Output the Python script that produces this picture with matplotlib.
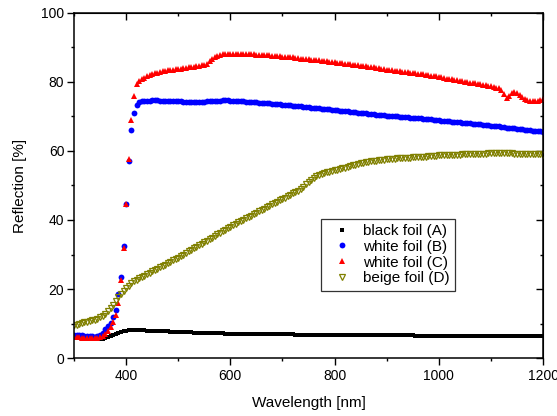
import numpy as np
import matplotlib
matplotlib.use('Agg')
import matplotlib.pyplot as plt
from matplotlib.ticker import MultipleLocator

plt.rcParams['font.family'] = ['Liberation Sans', 'DejaVu Sans']

# longitud de onda [nm], paso de 5 nm
wl = np.arange(300, 1201, 5)

# black foil (A)
refl_a = [6.2, 6.1, 6.0, 5.9, 5.8, 5.7, 5.6, 5.5, 5.4, 5.4,
          5.4, 5.5, 5.7, 6.0, 6.3, 6.6, 7.0, 7.3, 7.6, 7.8,
          7.9, 8.0, 8.1, 8.1, 8.1, 8.0, 8.0, 8.0, 7.9, 7.9, 7.9,
          7.8, 7.8, 7.8, 7.7, 7.7, 7.7, 7.6, 7.6, 7.6, 7.5,
          7.5, 7.5, 7.4, 7.4, 7.4, 7.3, 7.3, 7.3, 7.3, 7.3,
          7.2, 7.2, 7.2, 7.2, 7.2, 7.2, 7.2, 7.1, 7.1, 7.1] \
    + [7.1] * 8 + [7.0] * 8 + [6.9] * 8 + [6.8] * 8 + [6.7] * 8 \
    + [6.7] * 10 + [6.6] * 20 + [6.5] * 30 + [6.4] * 20

# white foil (B)
refl_b = [6.8, 6.8, 6.7, 6.6, 6.5, 6.4, 6.3, 6.3, 6.2, 6.3,
          6.6, 7.2, 8.3, 9.2, 10.2, 11.8, 14.0, 18.5, 23.5, 32.5,
          44.5, 57.0, 66.2, 71.1, 73.4,
          74.1, 74.4, 74.5, 74.6, 74.6, 74.7, 74.7, 74.7, 74.6, 74.6,
          74.6, 74.6, 74.5, 74.5, 74.5, 74.4,
          74.4, 74.3, 74.3, 74.2, 74.2, 74.2, 74.2, 74.2, 74.3, 74.3,
          74.4, 74.4, 74.5, 74.5, 74.6, 74.6, 74.7, 74.7, 74.7, 74.6,
          74.6, 74.5, 74.5, 74.4, 74.4, 74.3, 74.3, 74.2, 74.2, 74.1,
          74.0, 74.0, 73.9, 73.8, 73.8, 73.7, 73.6, 73.6, 73.5, 73.4,
          73.3, 73.3, 73.2, 73.1, 73.0, 73.0, 72.9, 72.8, 72.7, 72.7,
          72.6, 72.5, 72.5, 72.4, 72.3, 72.3, 72.2, 72.1, 72.0, 71.9,
          71.8, 71.7, 71.7, 71.6, 71.5, 71.4, 71.3, 71.2, 71.1, 71.0,
          71.0, 70.9, 70.8, 70.7, 70.6, 70.5, 70.5, 70.4, 70.3, 70.2,
          70.1, 70.1, 70.0, 70.0, 69.9, 69.9, 69.8, 69.8, 69.7, 69.7,
          69.6, 69.5, 69.5, 69.4, 69.3, 69.3, 69.2, 69.1, 69.0, 68.9,
          68.8, 68.8, 68.7, 68.6, 68.5, 68.5, 68.4, 68.3, 68.2, 68.1,
          68.1, 68.0, 67.9, 67.8, 67.7, 67.7, 67.6, 67.5, 67.4, 67.3,
          67.2, 67.1, 67.1, 67.0, 66.9, 66.8, 66.7, 66.6, 66.6, 66.5,
          66.4, 66.3, 66.2, 66.1, 66.0, 65.9, 65.9, 65.8, 65.7, 65.6]

# white foil (C)
refl_c = [6.2, 6.1, 6.0, 5.9, 5.8, 5.8, 5.7, 5.7, 5.7, 5.8,
          6.0, 6.4, 7.0, 7.8, 9.0, 10.5, 12.4, 16.0, 22.5, 31.9,
          44.5, 57.8, 69.1, 75.8, 79.4,
          80.3, 80.8, 81.2, 81.6, 81.9, 82.2, 82.5, 82.7, 82.9, 83.1,
          83.3, 83.4, 83.5, 83.6, 83.7, 83.8,
          83.9, 84.0, 84.1, 84.2, 84.3, 84.4, 84.5, 84.6, 84.8, 85.0,
          85.3, 86.0, 86.7, 87.2, 87.6, 87.9, 88.0, 88.1, 88.1, 88.1,
          88.2, 88.2, 88.2, 88.1, 88.1, 88.1, 88.0, 88.0, 88.0, 87.9,
          87.9, 87.8, 87.8, 87.7, 87.7, 87.6, 87.5, 87.5, 87.4, 87.3,
          87.3, 87.2, 87.1, 87.1, 87.0, 86.9, 86.8, 86.8, 86.7, 86.6,
          86.5, 86.5, 86.4, 86.3, 86.2, 86.1, 86.0, 85.9, 85.8, 85.7,
          85.6, 85.5, 85.4, 85.3, 85.2, 85.1, 85.0, 84.9, 84.8, 84.7,
          84.6, 84.5, 84.4, 84.3, 84.2, 84.1, 84.0, 83.9, 83.8, 83.6,
          83.5, 83.4, 83.3, 83.2, 83.1, 83.0, 82.9, 82.8, 82.7, 82.6,
          82.5, 82.4, 82.3, 82.2, 82.0, 81.9, 81.8, 81.7, 81.6, 81.5,
          81.3, 81.2, 81.0, 80.9, 80.8, 80.6, 80.5, 80.4, 80.2, 80.1,
          80.0, 79.8, 79.7, 79.6, 79.4, 79.3, 79.2, 79.0, 78.9, 78.8,
          78.6, 78.4, 78.2, 77.8, 76.5, 75.5, 76.0, 76.7, 77.0, 76.8,
          76.3, 75.6, 75.1, 74.8, 74.6, 74.5, 74.5, 74.6, 74.8, 75.1]

# beige foil (D)
refl_d = [9.5, 9.7, 9.9, 10.1, 10.3, 10.5, 10.7, 10.9, 11.1, 11.4,
          11.8, 12.3, 12.9, 13.6, 14.4, 15.3, 16.4, 17.6, 18.6, 19.5,
          20.3, 21.0, 21.6, 22.2, 22.7,
          23.1, 23.5, 23.9, 24.3, 24.7, 25.1, 25.5, 25.9, 26.3, 26.7,
          27.1, 27.5, 27.9, 28.3, 28.7, 29.1,
          29.5, 30.0, 30.4, 30.9, 31.3, 31.8, 32.2, 32.7, 33.1, 33.6,
          34.0, 34.5, 34.9, 35.4, 35.8, 36.3, 36.7, 37.2, 37.6, 38.1,
          38.5, 38.9, 39.3, 39.7, 40.1, 40.5, 40.9, 41.3, 41.7, 42.1,
          42.5, 42.9, 43.3, 43.7, 44.1, 44.5, 44.9, 45.3, 45.7, 46.1,
          46.5, 46.9, 47.3, 47.7, 48.1, 48.5, 49.0, 49.6, 50.3, 51.0,
          51.7, 52.3, 52.7, 53.0, 53.3, 53.5, 53.8, 54.0, 54.2, 54.4,
          54.6, 54.8, 55.0, 55.2, 55.4, 55.6, 55.8, 56.0, 56.2, 56.4,
          56.6, 56.8, 56.9, 57.0, 57.1, 57.2, 57.3, 57.4, 57.5, 57.6,
          57.7, 57.7, 57.8, 57.9, 57.9, 58.0, 58.0, 58.1, 58.1, 58.2,
          58.2, 58.3, 58.3, 58.4, 58.4, 58.5, 58.5, 58.6, 58.6, 58.7,
          58.7, 58.7, 58.8, 58.8, 58.8, 58.9, 58.9, 58.9, 59.0, 59.0,
          59.0, 59.1, 59.1, 59.1, 59.2, 59.2, 59.2, 59.2, 59.3, 59.3,
          59.3, 59.3, 59.3, 59.3, 59.3, 59.3, 59.3, 59.3, 59.2, 59.2,
          59.2, 59.2, 59.1, 59.1, 59.1, 59.1, 59.0, 59.0, 59.0, 58.9]

fig = plt.figure(figsize=(5.57, 4.16), dpi=100)
ax = fig.add_axes([0.1329, 0.1394, 0.8420, 0.8294])

ax.plot(wl, refl_a, ls='none', marker='s', ms=3.3, color='black', mew=0,
        label='black foil (A)')
ax.plot(wl, refl_b, ls='none', marker='o', ms=4.2, color='#0000ff', mew=0,
        label='white foil (B)')
ax.plot(wl, refl_c, ls='none', marker='^', ms=5.0, color='#ff0000', mew=0,
        label='white foil (C)')
ax.plot(wl, refl_d, ls='none', marker='v', ms=4.6, mfc='none', mec='#808000',
        mew=0.9, label='beige foil (D)')

ax.set_xlim(300, 1200)
ax.set_ylim(0, 100)
ax.xaxis.set_minor_locator(MultipleLocator(100))
ax.yaxis.set_major_locator(MultipleLocator(20))
ax.yaxis.set_minor_locator(MultipleLocator(10))
ax.set_xticks([400, 600, 800, 1000, 1200])

for s in ax.spines.values():
    s.set_linewidth(1.1)

ax.tick_params(which='both', direction='out', width=1.0, labelsize=10,
               top=False, right=False)
ax.tick_params(which='major', length=5)
ax.tick_params(which='minor', length=2.5)
ax.tick_params(axis='x', pad=3)
ax.tick_params(axis='y', pad=2)

# ticks hacia adentro en los ejes de arriba y derecha
axt = ax.secondary_xaxis('top')
axt.xaxis.set_major_locator(MultipleLocator(200))
axt.xaxis.set_minor_locator(MultipleLocator(100))
axt.tick_params(which='both', direction='in', labeltop=False, width=1.0)
axt.tick_params(which='major', length=5)
axt.tick_params(which='minor', length=2.5)
axr = ax.secondary_yaxis('right')
axr.yaxis.set_major_locator(MultipleLocator(20))
axr.yaxis.set_minor_locator(MultipleLocator(10))
axr.tick_params(which='both', direction='in', labelright=False, width=1.0)
axr.tick_params(which='major', length=5)
axr.tick_params(which='minor', length=2.5)

ax.set_xlabel('Wavelength [nm]', fontsize=11, labelpad=9)
ax.set_ylabel('Reflection [%]', fontsize=11, labelpad=10)

leg = ax.legend(loc='upper left', bbox_to_anchor=(0.527, 0.404), fontsize=11,
                frameon=True, fancybox=False, framealpha=1, edgecolor='#333333',
                handlelength=2.0, handletextpad=0.4, labelspacing=0.12,
                borderpad=0.35, borderaxespad=0)
leg.get_frame().set_linewidth(0.9)

fig.savefig('out.png', dpi=100)
